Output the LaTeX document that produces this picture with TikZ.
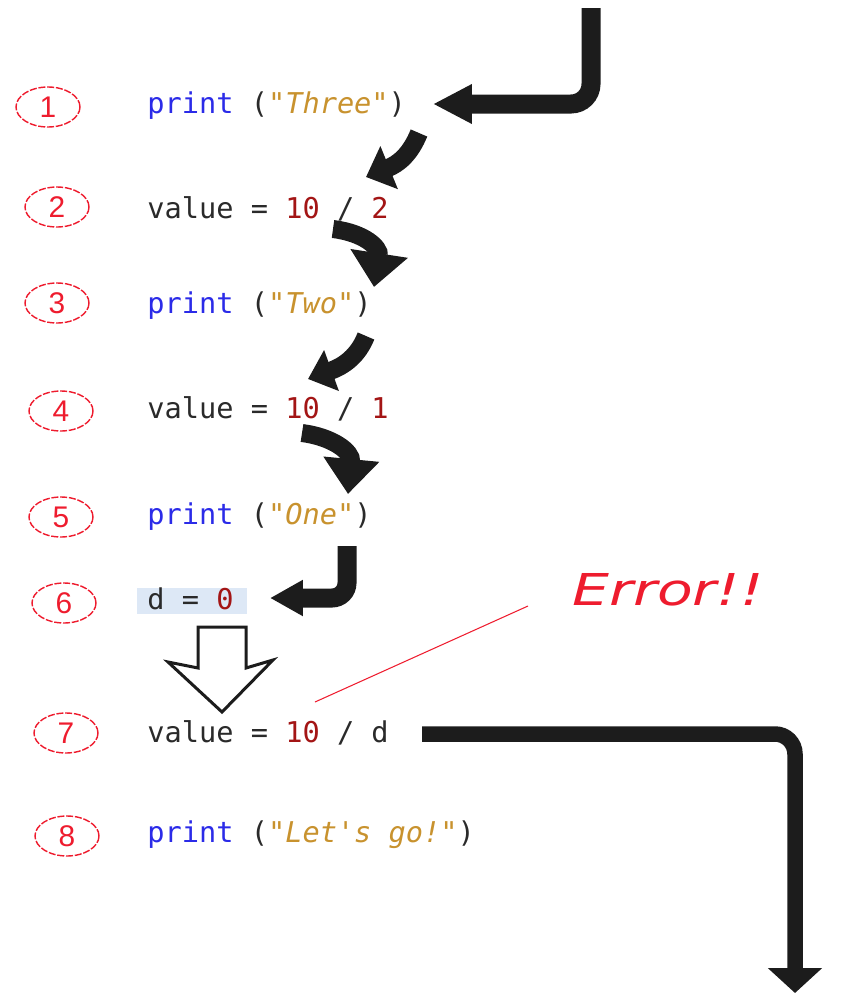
\documentclass[tikz,border=0pt]{standalone}
\usepackage{fontspec}
\setmainfont{Liberation Sans}
\setmonofont{DejaVu Sans Mono}
\newfontfamily\errfont{DejaVu Sans}
\usetikzlibrary{arrows.meta,shapes.geometric}

\definecolor{kw}{HTML}{2B2BE8}
\definecolor{strc}{HTML}{C8922E}
\definecolor{numc}{HTML}{A31515}
\definecolor{punc}{HTML}{2A2A2A}
\definecolor{ink}{HTML}{1C1C1C}
\definecolor{errred}{HTML}{EE1C2E}
\definecolor{selbg}{HTML}{DDE8F6}

% syntax colouring helpers
\newcommand\ckw[1]{\textcolor{kw}{#1}}
\newcommand\cstr[1]{\textcolor{strc}{\itshape #1}}
\newcommand\cnum[1]{\textcolor{numc}{#1}}

\tikzset{
  numring/.style={ellipse, draw=errred, line width=0.8pt,
    dash pattern=on 4pt off 1pt, minimum width=1.28cm, minimum height=0.8cm,
    inner sep=0pt, text=errred, font=\fontsize{17}{17}\selectfont},
  codeline/.style={anchor=base west, inner sep=0pt, text=punc,
    font=\ttfamily\fontsize{16.3}{16.3}\selectfont},
  flow/.style={draw=ink, line cap=butt},
}

\begin{document}
\begin{tikzpicture}[x=0.02cm,y=-0.02cm]
\useasboundingbox (0,0) rectangle (858,994);

% selection highlight behind "d = 0"
\fill[selbg] (137,588) rectangle (247,614);

% step numbers
\node[numring] (n1) at (48,107) {1};
\node[numring] (n2) at (57,207) {2};
\node[numring] (n3) at (57,303) {3};
\node[numring] (n4) at (61,411) {4};
\node[numring] (n5) at (61,517) {5};
\node[numring] (n6) at (64,603) {6};
\node[numring] (n7) at (66,733) {7};
\node[numring] (n8) at (67,836) {8};

% source lines
\node[codeline] (c1) at (147,113) {\ckw{print} (\cstr{"Three"})};
\node[codeline] (c2) at (147,218) {value = \cnum{10} / \cnum{2}};
\node[codeline] (c3) at (147,313) {\ckw{print} (\cstr{"Two"})};
\node[codeline] (c4) at (147,418) {value = \cnum{10} / \cnum{1}};
\node[codeline] (c5) at (147,524) {\ckw{print} (\cstr{"One"})};
\node[codeline] (c6) at (147,609) {d = \cnum{0}};
\node[codeline] (c7) at (147,742) {value = \cnum{10} / d};
\node[codeline] (c8) at (147,842) {\ckw{print} (\cstr{"Let's go!"})};

% error label and its pointer
\node[text=errred, inner sep=0pt, font=\errfont\itshape\fontsize{25}{25}\selectfont]
  (err) at (668,590) {\scalebox{1.33}[1]{Error!!}};
\coordinate (errA) at (528,606);
\coordinate (errB) at (315,702);
\draw[errred, line width=0.6pt] (errA) -- (errB);

% arrow end points
\coordinate (a1s) at (591,8);    \coordinate (a1e) at (433,104);
\coordinate (a2s) at (419,133);  \coordinate (a2e) at (366,177);
\coordinate (a3s) at (333,229);  \coordinate (a3e) at (374,287);
\coordinate (a4s) at (366,336);  \coordinate (a4e) at (308,379);
\coordinate (a5s) at (302,433);  \coordinate (a5e) at (348,494);
\coordinate (a6s) at (347,546);  \coordinate (a6e) at (270,598);
\coordinate (a7s) at (422,734);  \coordinate (a7e) at (795,993);

% flow of execution
\draw[flow, line width=0.38cm, rounded corners=0.4cm,
  -{Triangle[length=0.78cm,width=0.74cm]}] (a1s) |- (a1e);
\draw[flow, line width=0.36cm, -{Triangle[length=0.5cm,width=0.9cm]}]
  (a2s) .. controls (410,155) and (398,164) .. (a2e);
\draw[flow, line width=0.36cm, -{Triangle[length=0.68cm,width=1.12cm]}]
  (a3s) .. controls (365,233) and (380,248) .. (a3e);
\draw[flow, line width=0.36cm, -{Triangle[length=0.5cm,width=0.84cm]}]
  (a4s) .. controls (358,356) and (344,366) .. (a4e);
\draw[flow, line width=0.36cm, -{Triangle[length=0.7cm,width=1.08cm]}]
  (a5s) .. controls (333,437) and (352,452) .. (a5e);
\draw[flow, line width=0.38cm, rounded corners=0.3cm,
  -{Triangle[length=0.66cm,width=0.68cm]}] (a6s) |- (a6e);
\draw[flow, line width=0.31cm, rounded corners=0.4cm,
  -{Triangle[length=0.5cm,width=1.06cm]}] (a7s) -| (a7e);

% hollow arrow from line 6 to line 7
\draw[ink, line width=0.06cm, line join=miter, fill=white]
  (198,627) -- (246,627) -- (246,668) -- (273,660) -- (222,712)
  -- (168,662) -- (198,668) -- cycle;
\end{tikzpicture}
\end{document}
